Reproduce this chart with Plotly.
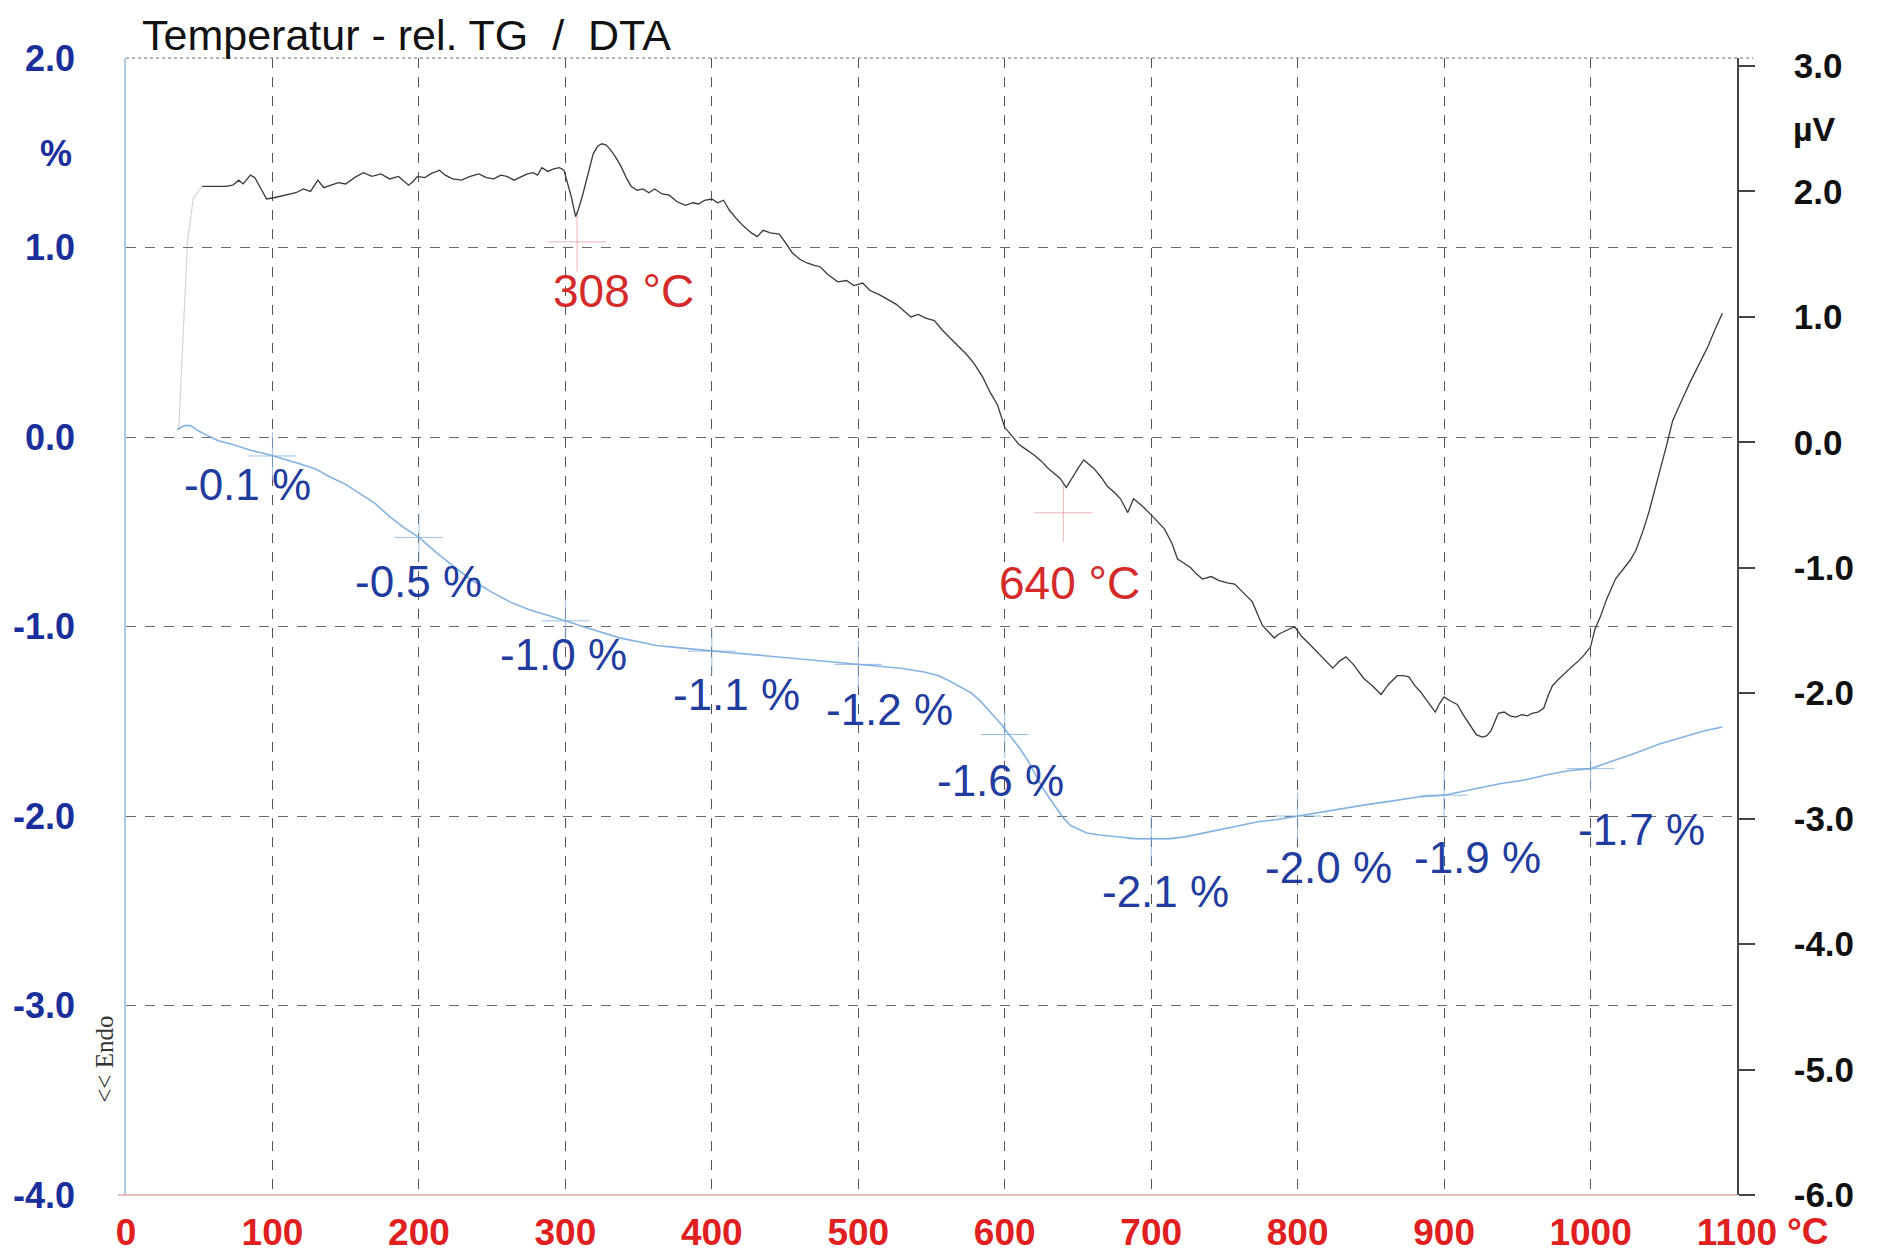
import plotly.graph_objects as go

# ---------------- data ----------------
x_ticks = [0, 100, 200, 300, 400, 500, 600, 700, 800, 900, 1000, 1100]
x_ticktext = ["0", "100", "200", "300", "400", "500", "600", "700", "800", "900", "1000", "1100"]
tg_ticks = [2.0, 1.0, 0.0, -1.0, -2.0, -3.0, -4.0]
tg_ticktext = ["2.0", "1.0", "0.0", "-1.0", "-2.0", "-3.0", "-4.0"]
dta_ticks = [3.0, 2.0, 1.0, 0.0, -1.0, -2.0, -3.0, -4.0, -5.0, -6.0]
dta_ticktext = ["3.0", "2.0", "1.0", "0.0", "-1.0", "-2.0", "-3.0", "-4.0", "-5.0", "-6.0"]

# DTA curve (µV) vs temperature (°C)
dta_t = [52, 60, 68, 73, 77, 80, 83, 85, 88, 92, 96, 101, 105, 110, 116, 121, 126, 131, 135, 140,
         145, 150, 156, 162, 168, 174, 180, 186, 190, 193, 196, 199, 204, 208, 214, 218, 223, 229, 235, 241,
         246, 251, 256, 260, 265, 269, 274, 278, 281, 284, 288, 292, 296, 299, 301, 304, 307, 309, 312, 316,
         319, 322, 325, 328, 331, 334, 338, 342, 345, 349, 353, 357, 361, 366, 371, 376, 382, 387, 391, 395,
         400, 404, 408, 412, 417, 422, 427, 431, 435, 440, 446, 451, 455, 460, 465, 470, 474, 479, 486, 492,
         497, 503, 508, 514, 520, 526, 531, 536, 541, 546, 552, 557, 562, 569, 574, 579, 585, 590, 595, 600,
         605, 610, 615, 620, 625, 629, 634, 638, 642, 645, 648, 651, 654, 658, 661, 666, 670, 675, 679, 684,
         688, 692, 695, 701, 705, 709, 714, 718, 722, 727, 731, 735, 741, 746, 752, 757, 763, 769, 773, 776,
         780, 784, 787, 790, 794, 798, 803, 809, 815, 820, 824, 829, 833, 838, 845, 851, 857, 862, 868, 872,
         876, 880, 884, 889, 894, 897, 900, 904, 909, 913, 918, 922, 926, 929, 932, 935, 937, 941, 945, 949,
         953, 957, 960, 964, 968, 971, 974, 978, 983, 987, 992, 996, 1000, 1003, 1007, 1011, 1017, 1022, 1027, 1031,
         1036, 1040, 1044, 1048, 1052, 1056, 1060, 1064, 1068, 1072, 1076, 1080, 1085, 1090]
dta_uv = [2.04, 2.04, 2.04, 2.05, 2.09, 2.06, 2.10, 2.13, 2.11, 2.03, 1.94, 1.95, 1.96, 1.97, 1.99, 2.02, 2.00, 2.09, 2.03, 2.05,
          2.07, 2.06, 2.11, 2.15, 2.12, 2.14, 2.10, 2.12, 2.08, 2.05, 2.08, 2.12, 2.11, 2.14, 2.17, 2.13, 2.10, 2.09, 2.12, 2.14,
          2.11, 2.10, 2.13, 2.12, 2.09, 2.11, 2.14, 2.15, 2.13, 2.19, 2.16, 2.18, 2.19, 2.17, 2.09, 1.96, 1.80, 1.86, 1.98, 2.16,
          2.30, 2.36, 2.38, 2.37, 2.33, 2.28, 2.20, 2.10, 2.04, 2.01, 2.02, 1.99, 2.02, 1.98, 1.97, 1.92, 1.89, 1.91, 1.90, 1.93,
          1.94, 1.91, 1.93, 1.85, 1.78, 1.72, 1.67, 1.64, 1.69, 1.67, 1.66, 1.58, 1.51, 1.46, 1.43, 1.41, 1.40, 1.34, 1.28, 1.29,
          1.25, 1.27, 1.21, 1.18, 1.14, 1.10, 1.05, 1.00, 1.02, 0.99, 0.97, 0.90, 0.84, 0.76, 0.70, 0.63, 0.52, 0.40, 0.30, 0.12,
          0.05, -0.02, -0.06, -0.10, -0.15, -0.20, -0.25, -0.29, -0.36, -0.30, -0.24, -0.19, -0.14, -0.18, -0.21, -0.28, -0.35, -0.40, -0.45, -0.56,
          -0.45, -0.49, -0.52, -0.59, -0.64, -0.69, -0.80, -0.93, -0.96, -1.00, -1.05, -1.09, -1.07, -1.10, -1.12, -1.13, -1.20, -1.27, -1.38, -1.46,
          -1.51, -1.56, -1.53, -1.51, -1.49, -1.47, -1.55, -1.62, -1.69, -1.75, -1.80, -1.74, -1.71, -1.77, -1.88, -1.94, -2.01, -1.93, -1.86, -1.86,
          -1.87, -1.94, -1.99, -2.07, -2.15, -2.08, -2.03, -2.06, -2.09, -2.17, -2.26, -2.33, -2.35, -2.34, -2.30, -2.22, -2.16, -2.15, -2.18, -2.19,
          -2.17, -2.18, -2.16, -2.15, -2.12, -2.02, -1.94, -1.89, -1.83, -1.79, -1.74, -1.69, -1.63, -1.49, -1.38, -1.25, -1.09, -1.01, -0.94, -0.86,
          -0.70, -0.55, -0.38, -0.20, -0.02, 0.17, 0.28, 0.38, 0.48, 0.57, 0.66, 0.76, 0.90, 1.03]

# faint start of the DTA trace
dta_start_t = [36, 39, 42, 46, 52]
dta_start_uv = [0.10, 0.90, 1.60, 1.95, 2.04]

# TG curve (%) vs temperature
tg_t = [35, 40, 44, 50, 55, 63, 73, 85, 96, 105, 118, 130, 139, 150, 160, 170, 180, 190, 200, 212,
        225, 237, 250, 262, 275, 288, 300, 312, 325, 337, 350, 362, 375, 387, 400, 415, 430, 445, 460, 475,
        490, 500, 515, 529, 545, 555, 563, 570, 577, 583, 590, 597, 604, 610, 616, 621, 625, 630, 636, 640,
        645, 650, 656, 665, 677, 690, 700, 712, 723, 735, 748, 760, 773, 785, 800, 815, 830, 847, 865, 882,
        900, 920, 938, 955, 972, 986, 1000, 1015, 1030, 1047, 1064, 1078, 1090]
tg_pct = [0.04, 0.06, 0.06, 0.03, 0.01, -0.02, -0.04, -0.07, -0.09, -0.11, -0.14, -0.17, -0.21, -0.25, -0.30, -0.35, -0.42, -0.48, -0.53, -0.61,
          -0.69, -0.76, -0.82, -0.87, -0.91, -0.94, -0.97, -1.00, -1.03, -1.06, -1.08, -1.10, -1.11, -1.12, -1.13, -1.14, -1.15, -1.16, -1.17, -1.18,
          -1.19, -1.20, -1.21, -1.22, -1.24, -1.26, -1.29, -1.32, -1.35, -1.39, -1.45, -1.51, -1.58, -1.64, -1.71, -1.78, -1.84, -1.90, -1.97, -2.01,
          -2.05, -2.07, -2.09, -2.10, -2.11, -2.12, -2.12, -2.12, -2.11, -2.09, -2.07, -2.05, -2.03, -2.02, -2.00, -1.98, -1.96, -1.94, -1.92, -1.90,
          -1.89, -1.86, -1.83, -1.81, -1.78, -1.76, -1.75, -1.71, -1.67, -1.62, -1.58, -1.55, -1.53]

# TG step marks and their labels
step_t = [100, 200, 300, 400, 500, 600, 700, 800, 900, 1000]
step_pct = [-0.10, -0.53, -0.97, -1.13, -1.20, -1.57, -2.12, -2.00, -1.89, -1.75]
step_text = ["-0.1 %", "-0.5 %", "-1.0 %", "-1.1 %", "-1.2 %", "-1.6 %", "-2.1 %", "-2.0 %", "-1.9 %", "-1.7 %"]
label_t = [83, 200, 299, 417, 521, 597, 710, 821, 923, 1035]
label_pct = [-0.25, -0.76, -1.15, -1.36, -1.44, -1.81, -2.40, -2.27, -2.22, -2.07]

# DTA peak marks
peak_t = [308, 640]
peak_mark_pct = [1.03, -0.40]
peak_text = ["308 °C", "640 °C"]
peak_label_t = [340, 644]
peak_label_pct = [0.77, -0.77]

# ---------------- figure ----------------
FONT = "Liberation Sans, Arial, sans-serif"
BLUE_TXT = "#1f3c9e"
RED = "#d42a2a"

fig = go.Figure()

fig.add_trace(go.Scatter(x=tg_t, y=tg_pct, mode="lines", yaxis="y",
                         line=dict(color="rgba(110,165,220,0.85)", width=1.6), hoverinfo="skip"))
fig.add_trace(go.Scatter(x=step_t, y=step_pct, mode="markers", yaxis="y",
                         marker=dict(symbol="cross-thin", size=34,
                                     line=dict(color="rgba(120,170,220,0.75)", width=1)),
                         hoverinfo="skip"))
fig.add_trace(go.Scatter(x=peak_t, y=peak_mark_pct, mode="markers", yaxis="y",
                         marker=dict(symbol="cross-thin", size=42,
                                     line=dict(color="rgba(225,110,110,0.5)", width=1)),
                         hoverinfo="skip"))
fig.add_trace(go.Scatter(x=dta_start_t, y=dta_start_uv, mode="lines", yaxis="y2",
                         line=dict(color="rgba(150,160,175,0.45)", width=1.2), hoverinfo="skip"))
fig.add_trace(go.Scatter(x=dta_t, y=dta_uv, mode="lines", yaxis="y2",
                         line=dict(color="#3a3a3a", width=1.3), hoverinfo="skip"))

annotations = []
for t, v, s in zip(label_t, label_pct, step_text):
    annotations.append(dict(x=t, y=v, xref="x", yref="y", text=s, showarrow=False,
                            font=dict(family=FONT, size=44, color=BLUE_TXT)))
for t, v, s in zip(peak_label_t, peak_label_pct, peak_text):
    annotations.append(dict(x=t, y=v, xref="x", yref="y", text=s, showarrow=False,
                            font=dict(family=FONT, size=46, color=RED)))

annotations += [
    dict(x=0.009, y=1.0435, xref="paper", yref="paper", xanchor="left", yanchor="top",
         text="Temperatur - rel. TG\u00a0\u00a0/\u00a0\u00a0DTA", showarrow=False,
         font=dict(family=FONT, size=43, color="#111")),
    dict(x=-0.0435, y=0.916, xref="paper", yref="paper", xanchor="center", yanchor="middle",
         text="%", showarrow=False,
         font=dict(family=FONT, size=36, color="#1a2f9c", weight="bold")),
    dict(x=1.0484, y=0.9375, xref="paper", yref="paper", xanchor="center", yanchor="middle",
         text="µV", showarrow=False,
         font=dict(family=FONT, size=34, color="#111", weight="bold")),
    dict(x=1.044, y=-0.0317, xref="paper", yref="paper", xanchor="center", yanchor="middle",
         text="°C", showarrow=False,
         font=dict(family=FONT, size=37, color="#e02020", weight="bold")),
    dict(x=-0.013, y=0.119, xref="paper", yref="paper", xanchor="center", yanchor="middle",
         text="<< Endo", textangle=-90, showarrow=False,
         font=dict(family="Liberation Serif, Times New Roman, serif", size=25, color="#333")),
]

shapes = [
    dict(type="line", xref="paper", yref="y domain", x0=0, x1=1.01, y0=1, y1=1,
         line=dict(color="#9a9a9a", width=1.5, dash="dot")),
    dict(type="line", xref="paper", yref="y domain", x0=-0.005, x1=1.0, y0=0, y1=0,
         line=dict(color="rgba(215,150,150,0.6)", width=2)),
]

fig.update_layout(
    width=1870, height=1247,
    margin=dict(l=118, r=141, t=50, b=60, autoexpand=False),
    paper_bgcolor="white", plot_bgcolor="white",
    showlegend=False,
    annotations=annotations,
    shapes=shapes,
    xaxis=dict(range=[0, 1100], tickvals=x_ticks, ticktext=x_ticktext, automargin=False,
               showgrid=True, gridcolor="#555", gridwidth=1.2, griddash="10px,9px",
               zeroline=False, showline=False, ticks="",
               tickfont=dict(family=FONT, size=37, color="#e02020", weight="bold"),
               ticklabelstandoff=12),
    yaxis=dict(range=[-4, 2], tickvals=tg_ticks, ticktext=tg_ticktext, automargin=False,
               showgrid=True, gridcolor="#6a6a6a", gridwidth=1.2, griddash="10px,9px",
               zeroline=False, showline=True, linecolor="#a9cde9", linewidth=1.5, ticks="",
               tickfont=dict(family=FONT, size=36, color="#1a2f9c", weight="bold"),
               ticklabelstandoff=42),
    yaxis2=dict(range=[-6.0, 3.064], tickvals=dta_ticks, ticktext=dta_ticktext, automargin=False,
                overlaying="y", side="right", showgrid=False, zeroline=False,
                showline=True, linecolor="#444", linewidth=1.5,
                ticks="outside", ticklen=16, tickcolor="#444", tickwidth=1.5,
                tickfont=dict(family=FONT, size=35, color="#111", weight="bold"),
                ticklabelstandoff=32),
)

fig.write_html("out.html")
